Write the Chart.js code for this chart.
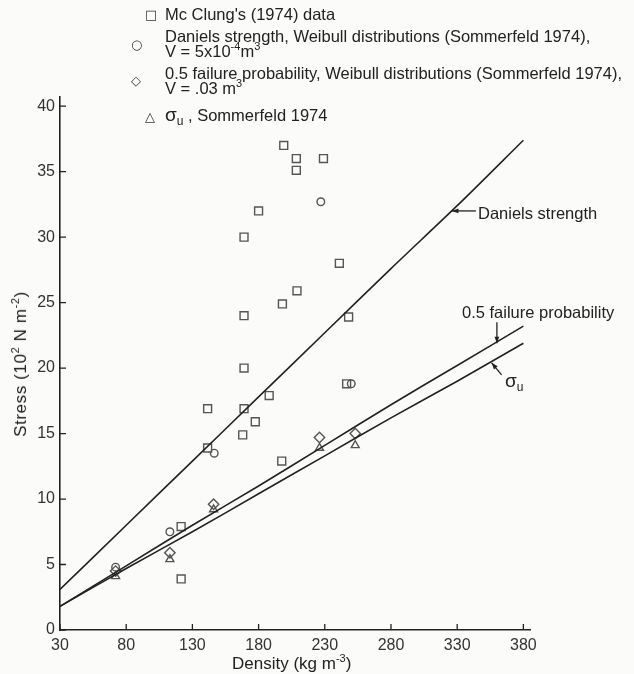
<!DOCTYPE html>
<html>
<head>
<meta charset="utf-8">
<script src="https://cdn.jsdelivr.net/npm/chart.js@4"></script>
<style>
  html, body { margin: 0; padding: 0; background: #fbfbfa; }
  #wrap { position: relative; width: 634px; height: 674px; overflow: hidden;
          font-family: "Liberation Sans", Arial, sans-serif; color: #222; }
  canvas { position: absolute; left: 0; top: 0; }
  .t { position: absolute; white-space: nowrap; font-size: 16.5px; line-height: 16px; }
  .t sup { font-size: 11px; vertical-align: 7px; line-height: 0; }
  .t sub { font-size: 12px; vertical-align: -4px; line-height: 0; }
  .sym { position: absolute; font-family: "DejaVu Sans", sans-serif; font-size: 13px; line-height: 13px; color: #333; }
</style>
</head>
<body>
<div id="wrap">
  <canvas id="chart" width="634" height="674"></canvas>

  <!-- legenda -->
  <div class="sym" style="left:145px; top:8px">□</div>
  <div class="t" style="left:165px; top:6px">Mc Clung's (1974) data</div>
  <div class="sym" style="left:131px; top:38px">○</div>
  <div class="t" style="left:165px; top:28px">Daniels strength, Weibull distributions (Sommerfeld 1974),</div>
  <div class="t" style="left:165px; top:43px">V = 5x10<sup>-4</sup>m<sup>3</sup></div>
  <div class="sym" style="left:131px; top:74px">◇</div>
  <div class="t" style="left:165px; top:65px">0.5 failure probability, Weibull distributions (Sommerfeld 1974),</div>
  <div class="t" style="left:165px; top:80px">V = .03 m<sup>3</sup></div>
  <div class="sym" style="left:145px; top:110px">△</div>
  <div class="t" style="left:165px; top:107px"><span style="font-size:19px">σ</span><sub>u</sub> , Sommerfeld 1974</div>

  <!-- etiquetas de curvas -->
  <div class="t" style="left:478px; top:205px">Daniels strength</div>
  <div class="t" style="left:462px; top:304px">0.5 failure probability</div>
  <div class="t" style="left:505px; top:373px; font-size:19px">σ<sub>u</sub></div>

  <!-- títulos de ejes -->
  <div class="t" style="left:232px; top:656px; font-size:17px">Density (kg m<sup>-3</sup>)</div>
  <div class="t" style="left:21px; top:364px; font-size:17px; letter-spacing:0.6px; transform: translate(-50%,-50%) rotate(-90deg)">Stress (10<sup>2</sup> N m<sup>-2</sup>)</div>
</div>

<script>
// Datos
const xTicks = [30, 80, 130, 180, 230, 280, 330, 380];
const yTicks = [0, 5, 10, 15, 20, 25, 30, 35, 40];

const mcClungX = [121.5, 121.5, 141.5, 141.5, 169, 169, 169, 169, 168, 177.5, 180, 188, 197.5, 198, 199, 208.5, 208.5, 209, 229, 241, 248, 246.5];
const mcClungY = [7.9, 3.9, 16.9, 13.9, 30.0, 24.0, 20.0, 16.9, 14.9, 15.9, 32.0, 17.9, 12.9, 24.9, 37.0, 36.0, 35.1, 25.9, 36.0, 28.0, 23.9, 18.8];

const danielsX = [72, 113, 146.5, 227, 250];
const danielsY = [4.8, 7.5, 13.5, 32.7, 18.8];

const failureX = [72, 113, 146, 226, 253];
const failureY = [4.5, 5.9, 9.6, 14.7, 15.0];

const sigmaX = [72, 113, 146, 226, 253];
const sigmaY = [4.1, 5.4, 9.2, 13.9, 14.1];

// Curvas
const curveX = [30, 80, 130, 180, 230, 280, 330, 380];
const danielsCurve = [3.1, 8.0, 12.9, 17.8, 22.7, 27.6, 32.4, 37.4];
const failureCurve = [1.8, 4.9, 8.0, 11.0, 14.1, 17.2, 20.2, 23.2];
const sigmaCurve = [1.8, 4.7, 7.5, 10.4, 13.3, 16.2, 19.0, 21.9];

const ink = '#222';
const markInk = '#555';

const toPoints = (xs, ys) => xs.map((x, i) => ({ x, y: ys[i] }));

const markerSet = (xs, ys, style, radius) => ({
  data: toPoints(xs, ys),
  pointStyle: style,
  pointRadius: radius,
  pointBorderColor: markInk,
  pointBackgroundColor: 'rgba(0,0,0,0)',
  pointBorderWidth: 1.4,
  showLine: false
});

const curveSet = (ys) => ({
  data: toPoints(curveX, ys),
  showLine: true,
  borderColor: ink,
  borderWidth: 1.6,
  pointRadius: 0,
  tension: 0.3,
  fill: false
});

// Flechas de las etiquetas (punta en coordenadas de datos, origen en px relativos)
const arrows = [
  { tip: [326, 32.0], from: [24, 0] },
  { tip: [360, 21.9], from: [0, -21] },
  { tip: [356, 20.4], from: [10, 12] }
];

const inwardTicks = {
  id: 'inwardTicks',
  afterDraw(chart) {
    const { ctx, chartArea, scales } = chart;
    ctx.save();
    ctx.strokeStyle = ink;
    ctx.lineWidth = 1.3;
    ctx.beginPath();
    xTicks.forEach(v => {
      const px = scales.x.getPixelForValue(v);
      ctx.moveTo(px, chartArea.bottom);
      ctx.lineTo(px, chartArea.bottom - 6);
    });
    yTicks.forEach(v => {
      const py = scales.y.getPixelForValue(v);
      ctx.moveTo(chartArea.left, py);
      ctx.lineTo(chartArea.left + 6, py);
    });
    ctx.stroke();

    // flechas
    ctx.fillStyle = ink;
    arrows.forEach(a => {
      const tx = scales.x.getPixelForValue(a.tip[0]);
      const ty = scales.y.getPixelForValue(a.tip[1]);
      const fx = tx + a.from[0];
      const fy = ty + a.from[1];
      ctx.beginPath();
      ctx.moveTo(fx, fy);
      ctx.lineTo(tx, ty);
      ctx.stroke();
      const ang = Math.atan2(ty - fy, tx - fx);
      ctx.beginPath();
      ctx.moveTo(tx, ty);
      ctx.lineTo(tx - 7 * Math.cos(ang - 0.35), ty - 7 * Math.sin(ang - 0.35));
      ctx.lineTo(tx - 7 * Math.cos(ang + 0.35), ty - 7 * Math.sin(ang + 0.35));
      ctx.closePath();
      ctx.fill();
    });
    ctx.restore();
  }
};

new Chart(document.getElementById('chart'), {
  type: 'scatter',
  data: {
    datasets: [
      curveSet(danielsCurve),
      curveSet(failureCurve),
      curveSet(sigmaCurve),
      markerSet(mcClungX, mcClungY, 'rect', 5.6),
      markerSet(danielsX, danielsY, 'circle', 3.8),
      markerSet(failureX, failureY, 'rectRot', 5.2),
      markerSet(sigmaX, sigmaY, 'triangle', 4.6)
    ]
  },
  options: {
    responsive: false,
    animation: false,
    devicePixelRatio: 1,
    layout: { padding: { top: 97, right: 104, left: 0, bottom: 0 } },
    plugins: {
      legend: { display: false },
      tooltip: { enabled: false }
    },
    scales: {
      x: {
        type: 'linear',
        min: 30,
        max: 385,
        afterFit: s => { s.height = 44; },
        afterBuildTicks: s => { s.ticks = xTicks.map(v => ({ value: v })); },
        grid: { drawOnChartArea: false, drawTicks: false },
        border: { display: true, color: ink, width: 1.6 },
        ticks: {
          padding: 6,
          maxRotation: 0,
          autoSkip: false,
          color: '#333',
          font: { family: 'Liberation Sans', size: 16 }
        }
      },
      y: {
        type: 'linear',
        min: 0,
        max: 40.7,
        afterFit: s => { s.width = 60; },
        afterBuildTicks: s => { s.ticks = yTicks.map(v => ({ value: v })); },
        grid: { drawOnChartArea: false, drawTicks: false },
        border: { display: true, color: ink, width: 1.6 },
        ticks: {
          padding: 5,
          autoSkip: false,
          color: '#333',
          font: { family: 'Liberation Sans', size: 16 }
        }
      }
    }
  },
  plugins: [inwardTicks]
});
</script>
</body>
</html>
